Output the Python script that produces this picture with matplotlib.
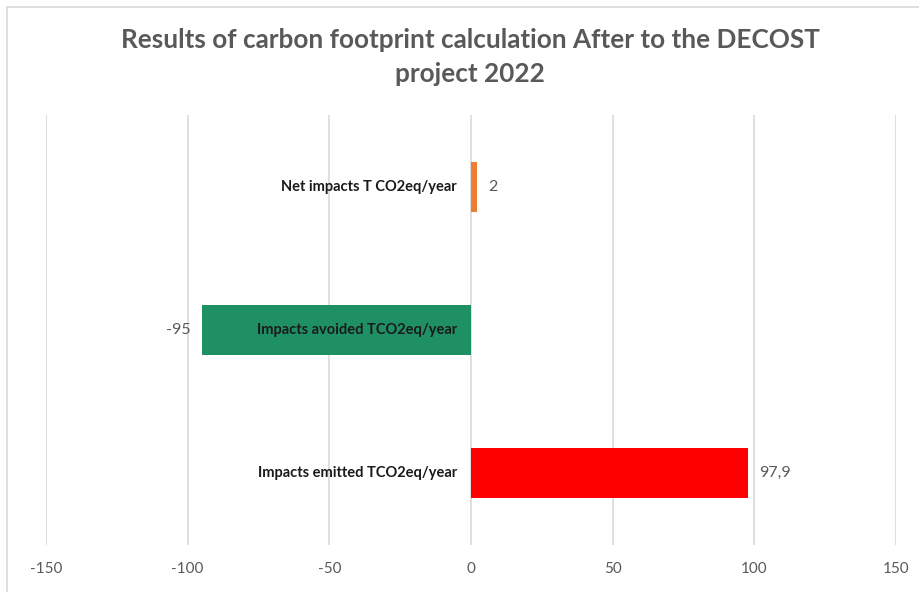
import matplotlib
matplotlib.use("Agg")
import matplotlib.pyplot as plt
from matplotlib.patches import Rectangle

# carbon footprint after the project, tonnes CO2eq per year (bottom to top)
categories = ["Impacts emitted TCO2eq/year",
              "Impacts avoided TCO2eq/year",
              "Net impacts T CO2eq/year"]
values = [97.9, -95, 2]
colors = ["#FF0000", "#1E9064", "#ED7D31"]
xticks = [-150, -100, -50, 0, 50, 100, 150]

plt.rcParams['font.family'] = ['Lato', 'DejaVu Sans']
grey = "#595959"

fig = plt.figure(figsize=(9.2, 5.92), dpi=100)
# chart frame
fig.patches.append(Rectangle((7 / 920, -0.1), 1.1, (592 - 7) / 592 + 0.1,
                             transform=fig.transFigure, fill=False,
                             edgecolor="#D9D9D9", linewidth=1.2))

ax = fig.add_axes([46 / 920, 47 / 592, 850 / 920, 430 / 592])
bars = ax.barh(range(len(values)), values, height=0.35, color=colors, zorder=2)

ax.set_xlim(-150, 150)
ax.set_ylim(-0.5, len(values) - 0.5)
ax.set_xticks(xticks)
ax.set_xticklabels([str(t) for t in xticks])
ax.set_yticks([])
ax.grid(axis="x", color="#D9D9D9", linewidth=1.2, zorder=0)
ax.set_axisbelow(True)
for s in ax.spines.values():
    s.set_visible(False)
ax.tick_params(axis="x", length=0, pad=12, labelsize=11, labelcolor=grey)

# category labels sit next to the zero line, on top of the bars
for i, name in enumerate(categories):
    ax.annotate(name, xy=(0, i), xytext=(-10, 0), textcoords="offset points",
                ha="right", va="center", fontsize=10.5, fontweight="bold",
                color="#1a1a1a", zorder=4)

ax.bar_label(bars, labels=[f"{v:g}".replace(".", ",") for v in values],
             padding=8, fontsize=11.5, color=grey)

fig.text(0.511, 0.904, "Results of carbon footprint calculation After to the DECOST\nproject 2022",
         ha="center", va="center", fontsize=18.8, fontweight="bold", color=grey,
         linespacing=1.5)

fig.savefig("out.png", dpi=100)
